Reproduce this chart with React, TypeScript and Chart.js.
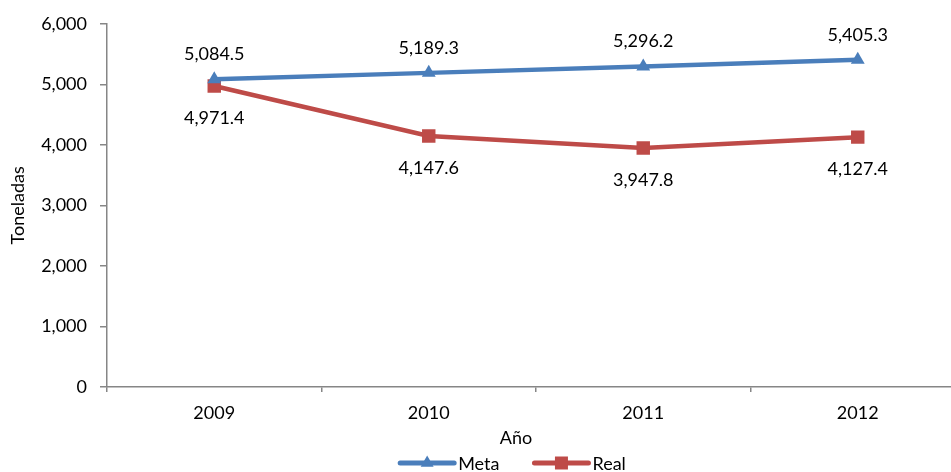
import React, { useEffect, useRef } from "react";
import { Chart, registerables } from "chart.js";

Chart.register(...registerables);

const years = ["2009", "2010", "2011", "2012"];
const metaValues = [5084.5, 5189.3, 5296.2, 5405.3];
const realValues = [4971.4, 4147.6, 3947.8, 4127.4];
const seriesNames = ["Meta", "Real"];
const yMin = 0;
const yMax = 6000;
const yStep = 1000;
const xTitle = "Año";
const yTitle = "Toneladas";

const BLUE = "#4A7EBB";
const RED = "#BE4B48";
const AXIS = "#868686";
const FONT = "Lato, 'Open Sans', sans-serif";
const FS = 18;

const fmtTick = (v: number) => Number(v).toLocaleString("en-US");
const fmtVal = (v: number) =>
  Number(v).toLocaleString("en-US", { minimumFractionDigits: 1, maximumFractionDigits: 1 });

function drawMarker(ctx: CanvasRenderingContext2D, style: string, x: number, y: number, color: string) {
  ctx.save();
  ctx.fillStyle = color;
  ctx.beginPath();
  if (style === "triangle") {
    const r = 7.5;
    ctx.moveTo(x, y - r);
    ctx.lineTo(x + r * Math.sin(Math.PI / 3), y + r / 2);
    ctx.lineTo(x - r * Math.sin(Math.PI / 3), y + r / 2);
    ctx.closePath();
  } else {
    const s = 6.5;
    ctx.rect(x - s, y - s, 2 * s, 2 * s);
  }
  ctx.fill();
  ctx.restore();
}

const pointLabelPlugin = {
  id: "pointLabels",
  afterDatasetsDraw(chart: any) {
    const ctx = chart.ctx as CanvasRenderingContext2D;
    ctx.save();
    ctx.font = `${FS}px ${FONT}`;
    ctx.fillStyle = "#000";
    ctx.textAlign = "center";
    ctx.textBaseline = "middle";
    chart.data.datasets.forEach((ds: any, i: number) => {
      const m = chart.getDatasetMeta(i);
      m.data.forEach((pt: any, j: number) => {
        ctx.fillText(fmtVal(ds.data[j]), pt.x, pt.y + ds.labelOffset);
      });
    });
    ctx.restore();
  },
};

const bottomPlugin = {
  id: "bottomLegend",
  afterDraw(chart: any) {
    const ctx = chart.ctx as CanvasRenderingContext2D;
    const area = chart.chartArea;
    const cx = chart.width / 2;
    ctx.save();
    ctx.font = `${FS}px ${FONT}`;
    ctx.fillStyle = "#000";
    ctx.textAlign = "center";
    ctx.textBaseline = "middle";
    ctx.fillText(xTitle, cx, area.bottom + 51);

    const cy = area.bottom + 76;
    const lineW = 58;
    const gap = 2;
    const between = 33;
    const items = chart.data.datasets.map((ds: any) => ({
      label: ds.label,
      color: ds.borderColor,
      style: ds.pointStyle,
      w: ctx.measureText(ds.label).width,
    }));
    const total = items.reduce((s: number, it: any) => s + lineW + gap + it.w, 0) + between * (items.length - 1);
    let x = cx - total / 2 - 4;
    ctx.textAlign = "left";
    items.forEach((it: any) => {
      ctx.strokeStyle = it.color;
      ctx.lineWidth = 5;
      ctx.lineCap = "round";
      ctx.beginPath();
      ctx.moveTo(x + 2, cy);
      ctx.lineTo(x + lineW - 2, cy);
      ctx.stroke();
      drawMarker(ctx, it.style, x + lineW / 2, cy, it.color);
      ctx.fillStyle = "#000";
      ctx.fillText(it.label, x + lineW + gap, cy + 1);
      x += lineW + gap + it.w + between;
    });
    ctx.restore();
  },
};

export default function App() {
  const ref = useRef<HTMLCanvasElement | null>(null);
  useEffect(() => {
    if (!ref.current) return;
    const chart = new Chart(ref.current, {
      type: "line",
      data: {
        labels: years,
        datasets: [
          {
            label: seriesNames[0],
            data: metaValues,
            borderColor: BLUE,
            backgroundColor: BLUE,
            borderWidth: 4.5,
            pointStyle: "triangle",
            pointRadius: 8,
            pointBorderWidth: 0,
            pointBackgroundColor: BLUE,
            tension: 0,
            labelOffset: -25,
          } as any,
          {
            label: seriesNames[1],
            data: realValues,
            borderColor: RED,
            backgroundColor: RED,
            borderWidth: 4.5,
            pointStyle: "rect",
            pointRadius: 9.5,
            pointBorderWidth: 0,
            pointBackgroundColor: RED,
            tension: 0,
            labelOffset: 32,
          } as any,
        ],
      },
      options: {
        animation: false,
        responsive: false,
        devicePixelRatio: 1,
        layout: { padding: { top: 22, right: 67, left: 0, bottom: 0 } },
        plugins: {
          legend: { display: false },
          tooltip: { enabled: false },
        },
        scales: {
          x: {
            type: "category",
            offset: true,
            grid: {
              offset: true,
              drawOnChartArea: false,
              drawTicks: true,
              tickLength: 5,
              color: AXIS,
              lineWidth: 1.5,
            },
            border: { color: AXIS, width: 1.5 },
            ticks: {
              color: "#000",
              font: { family: FONT, size: FS },
              padding: 10,
              maxRotation: 0,
            },
            afterFit: (s: any) => {
              s.height = 85;
            },
          },
          y: {
            min: yMin,
            max: yMax,
            grid: {
              drawOnChartArea: false,
              drawTicks: true,
              tickLength: 7,
              color: AXIS,
              lineWidth: 1.5,
            },
            border: { color: AXIS, width: 1.5 },
            ticks: {
              stepSize: yStep,
              color: "#000",
              font: { family: FONT, size: FS },
              padding: 13,
              callback: (v: any) => fmtTick(v),
            },
            title: {
              display: true,
              text: yTitle,
              color: "#000",
              font: { family: FONT, size: FS },
              padding: { top: 7, bottom: 0 },
            },
            afterFit: (s: any) => {
              s.width = 107;
            },
          },
        },
      },
      plugins: [pointLabelPlugin, bottomPlugin],
    });
    return () => chart.destroy();
  }, []);

  return (
    <div
      style={{
        position: "absolute",
        left: 0,
        top: 0,
        width: 951,
        height: 472,
        overflow: "hidden",
        background: "#fff",
      }}
    >
      <canvas ref={ref} width={1032} height={472} style={{ display: "block" }} />
    </div>
  );
}
